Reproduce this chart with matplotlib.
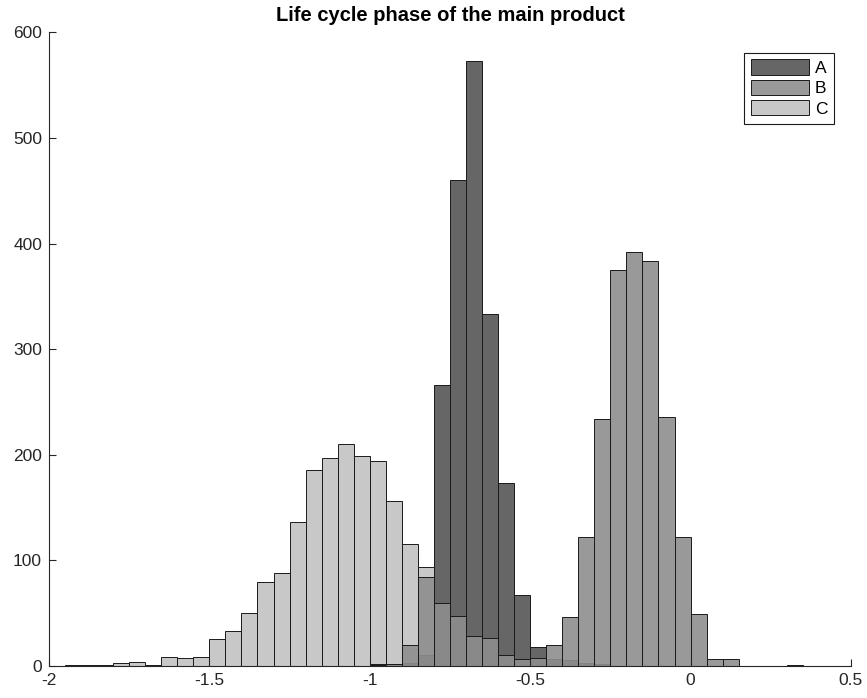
import numpy as np
import matplotlib
matplotlib.use("Agg")
import matplotlib.pyplot as plt
from matplotlib.ticker import FuncFormatter

plt.rcParams["font.family"] = ["Liberation Sans", "DejaVu Sans"]
plt.rcParams["axes.unicode_minus"] = False

BIN_WIDTH = 0.05

# counts per bin, each series starts at its own left edge
C_START = -1.95
C_COUNTS = [1, 1, 1, 3, 4, 1, 9, 8, 9, 26, 33, 50, 80, 88, 136, 186, 197, 210,
            199, 194, 156, 116, 94, 25, 10, 5, 3, 2, 1, 3, 2, 1]
A_START = -1.00
A_COUNTS = [2, 2, 3, 10, 266, 460, 573, 333, 173, 67, 18, 7, 6, 3, 2]
B_START = -1.00
B_COUNTS = [1, 2, 20, 84, 60, 47, 28, 27, 10, 7, 8, 20, 46, 122, 234, 375, 392,
            383, 236, 122, 49, 7, 7, 0, 0, 0, 1]

LABELS = ["A", "B", "C"]
X_TICKS = [-2, -1.5, -1, -0.5, 0, 0.5]
Y_TICKS = [0, 100, 200, 300, 400, 500, 600]


def lefts(start, counts):
    return np.round(start + BIN_WIDTH * np.arange(len(counts)), 3)


fig = plt.figure(figsize=(8.67, 6.98), dpi=100)
ax = fig.add_axes([0.0565, 0.0458, 0.925, 0.908])

edge = "#1a1a1a"
bc = ax.bar(lefts(C_START, C_COUNTS), C_COUNTS, width=BIN_WIDTH, align="edge",
            color="#c8c8c8", edgecolor=edge, linewidth=0.7, label="C")
ba = ax.bar(lefts(A_START, A_COUNTS), A_COUNTS, width=BIN_WIDTH, align="edge",
            color="#666666", edgecolor=edge, linewidth=0.7, label="A")
bb = ax.bar(lefts(B_START, B_COUNTS), B_COUNTS, width=BIN_WIDTH, align="edge",
            color=(0.556, 0.556, 0.556, 0.9), edgecolor=edge, linewidth=0.7,
            label="B")

ax.set_xlim(-2, 0.5)
ax.set_ylim(0, 600)
ax.set_xticks(X_TICKS)
ax.set_yticks(Y_TICKS)
ax.xaxis.set_major_formatter(FuncFormatter(lambda v, p: "%g" % v))
ax.tick_params(direction="in", length=5, width=0.8, colors="#262626",
               labelsize=12.5, pad=5)

for s in ("top", "right"):
    ax.spines[s].set_visible(False)
for s in ("left", "bottom"):
    ax.spines[s].set_color("#262626")
    ax.spines[s].set_linewidth(0.8)

ax.set_title("Life cycle phase of the main product", fontsize=14.5,
             fontweight="bold", pad=8)

leg = ax.legend([ba, bb, bc], LABELS, loc="upper right",
                bbox_to_anchor=(0.979, 0.968), borderaxespad=0,
                fancybox=False, framealpha=1, edgecolor="#1a1a1a",
                fontsize=12.5, handlelength=3.3, handleheight=1.0,
                handletextpad=0.35, labelspacing=0.2, borderpad=0.4)
leg.get_frame().set_linewidth(0.8)

plt.savefig("out.png", dpi=100)
